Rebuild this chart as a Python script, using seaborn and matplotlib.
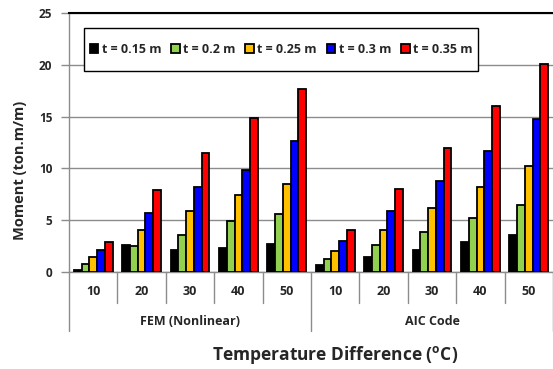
import matplotlib
matplotlib.use("Agg")
import matplotlib.pyplot as plt
from matplotlib.patches import Rectangle
import seaborn as sns
import pandas as pd

methods = ["FEM (Nonlinear)", "AIC Code"]
temps = ["10", "20", "30", "40", "50"]
series = ["t = 0.15 m", "t = 0.2 m", "t = 0.25 m", "t = 0.3 m", "t = 0.35 m"]
colors = ["#000000", "#92D050", "#FFC000", "#0000FF", "#FF0000"]

# values per series, ordered FEM 10..50 then AIC 10..50
t015 = [0.2, 2.6, 2.1, 2.3, 2.7, 0.7, 1.4, 2.1, 2.9, 3.6]
t020 = [0.75, 2.55, 3.6, 4.9, 5.6, 1.3, 2.6, 3.9, 5.2, 6.5]
t025 = [1.4, 4.1, 5.9, 7.4, 8.5, 2.0, 4.1, 6.15, 8.2, 10.2]
t030 = [2.1, 5.7, 8.2, 9.8, 12.6, 3.0, 5.9, 8.8, 11.7, 14.8]
t035 = [2.9, 7.9, 11.5, 14.9, 17.7, 4.05, 8.0, 12.0, 16.05, 20.1]
yticks = [0, 5, 10, 15, 20, 25]

cats = [f"{m}|{t}" for m in methods for t in temps]
rows = []
for s, vals in zip(series, [t015, t020, t025, t030, t035]):
    for c, v in zip(cats, vals):
        rows.append({"cat": c, "val": v, "series": s})
df = pd.DataFrame(rows)

sns.set_style("white")
plt.rcParams["font.family"] = ["Open Sans", "DejaVu Sans"]

fig = plt.figure(figsize=(5.53, 3.69), dpi=100)
ax = fig.add_axes([69/553, 1-272/369, 484/553, 259/369])

sns.barplot(data=df, x="cat", y="val", hue="series", order=cats, hue_order=series,
            palette=colors, edgecolor="black", linewidth=1.3, width=0.8,
            saturation=1, dodge=True, ax=ax, zorder=3)

ax.set_ylim(0, 25)
ax.set_xlim(-0.5, len(cats) - 0.5)
ax.set_yticks(yticks)
ax.set_yticklabels([str(v) for v in yticks], fontweight="bold", fontsize=8.5)
ax.yaxis.grid(True, color="#8c8c8c", linewidth=1.0, zorder=0)
ax.set_axisbelow(True)
ax.tick_params(axis="y", length=6, color="#8c8c8c", width=1.0, pad=6, left=True)
ax.set_xticks([])
ax.set_xlabel("")
ax.set_ylabel("Moment (ton.m/m)", fontsize=10.5, fontweight="bold")
ax.yaxis.set_label_coords((27-69)/484, (272-170)/259)

for side in ["left", "bottom"]:
    ax.spines[side].set_color("#8c8c8c")
    ax.spines[side].set_linewidth(1.0)
ax.spines["right"].set_visible(False)
ax.spines["top"].set_color("black")
ax.spines["top"].set_linewidth(1.5)

# multi-level category axis
n = len(cats)
for i in range(n + 1):
    x = i / n
    y1 = -0.228 if i % 5 == 0 else -0.12
    ax.plot([x, x], [0, y1], transform=ax.transAxes, color="#8c8c8c",
            linewidth=1.0, clip_on=False)
for i, c in enumerate(cats):
    ax.text((i + 0.5) / n, -0.077, c.split("|")[1], transform=ax.transAxes,
            ha="center", va="center", fontsize=9, fontweight="bold")
for j, m in enumerate(methods):
    ax.text((j + 0.5) / 2, -0.193, m, transform=ax.transAxes,
            ha="center", va="center", fontsize=9, fontweight="bold")

fig.text(335/553, 1-355/369, r"Temperature Difference ($\mathregular{^o}$C)",
         ha="center", va="center", fontsize=12.5, fontweight="bold")

# legend frame
frame = Rectangle((84/553, 1-71/369), (478-84)/553, 43/369, transform=fig.transFigure,
                  facecolor="white", edgecolor="black", linewidth=1.0, zorder=4)
fig.add_artist(frame)

leg = ax.legend(loc="center", bbox_to_anchor=((84-69)/484, (272-71)/259, (478-84)/484, 43/259),
                ncol=5, frameon=False,
                handlelength=0.7, handleheight=0.7, handletextpad=0.25,
                columnspacing=0.8, borderpad=0.5, prop={"weight": "bold", "size": 9})
leg.set_zorder(5)
leg.remove()
fig.add_artist(leg)

fig.savefig("out.png", dpi=100)
